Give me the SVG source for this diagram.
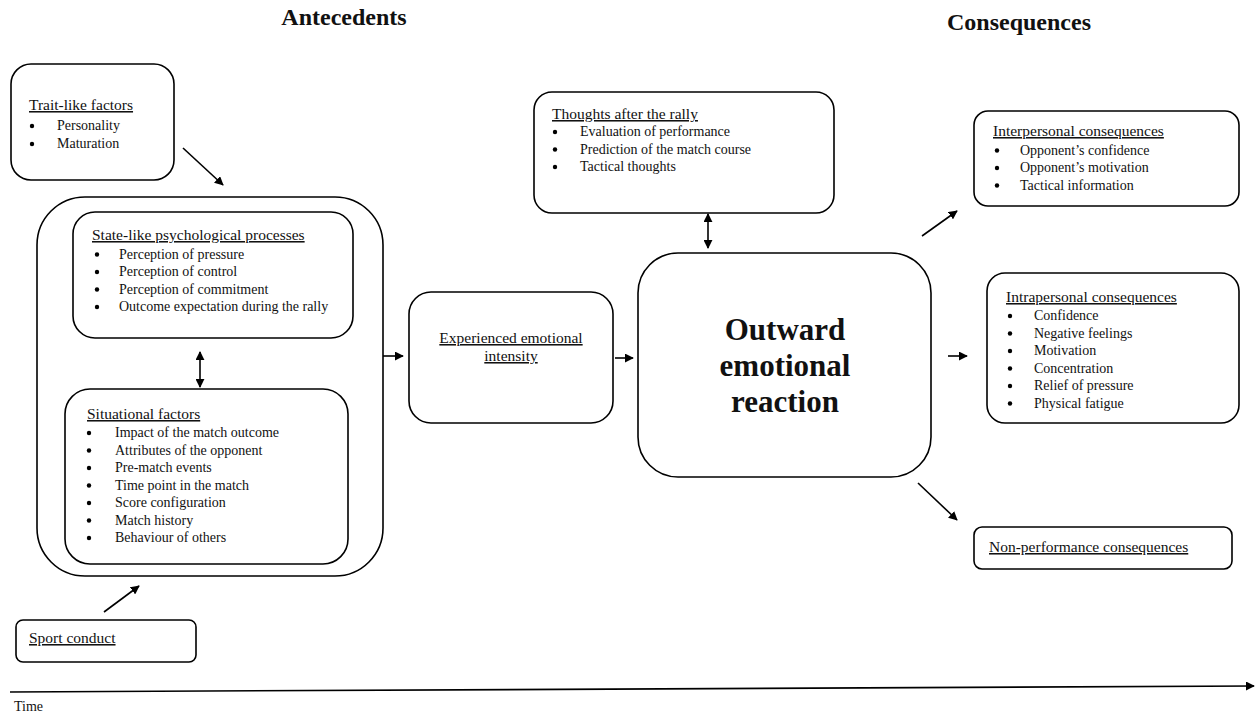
<svg xmlns="http://www.w3.org/2000/svg" width="1256" height="719" viewBox="0 0 1256 719">
<defs>
<marker id="ah" viewBox="0 0 10 10" refX="9" refY="5" markerWidth="9" markerHeight="9" markerUnits="userSpaceOnUse" orient="auto-start-reverse">
<path d="M0,0 L10,5 L0,10 z" fill="#000"/>
</marker>
<style>
.box{fill:#fff;stroke:#000;stroke-width:1.6}
.t{font-family:"Liberation Serif","Times New Roman",serif;fill:#111}
.ti{font-size:15.5px;text-decoration:underline}
.it{font-size:14px}
.hd{font-size:24px;font-weight:bold}
.big{font-size:31px;font-weight:bold}
.b{fill:#000}
.c{stroke:#000;stroke-width:1.6;fill:none;marker-end:url(#ah)}
.cc{stroke:#000;stroke-width:1.6;fill:none;marker-end:url(#ah);marker-start:url(#ah)}
</style>
</defs>
<rect width="1256" height="719" fill="#fff"/>

<g id="headers">
<text class="t hd" x="344" y="25" text-anchor="middle">Antecedents</text>
<text class="t hd" x="1019" y="30" text-anchor="middle">Consequences</text>
</g>

<g id="trait">
<rect class="box" x="11" y="64" width="163" height="116" rx="20"/>
<text class="t ti" x="29" y="110">Trait-like factors</text>
<circle class="b" cx="32" cy="126" r="2.2"/><text class="t it" x="57" y="130">Personality</text>
<circle class="b" cx="32" cy="144" r="2.2"/><text class="t it" x="57" y="148">Maturation</text>
</g>

<g id="antecedents-group">
<rect class="box" x="37" y="197" width="346" height="379" rx="48"/>
</g>

<g id="state">
<rect class="box" x="73" y="212" width="280" height="126" rx="22"/>
<text class="t ti" x="92" y="240">State-like psychological processes</text>
<circle class="b" cx="97" cy="254.5" r="2.2"/><text class="t it" x="119" y="258.5">Perception of pressure</text>
<circle class="b" cx="97" cy="272" r="2.2"/><text class="t it" x="119" y="276">Perception of control</text>
<circle class="b" cx="97" cy="289.5" r="2.2"/><text class="t it" x="119" y="293.5">Perception of commitment</text>
<circle class="b" cx="97" cy="307" r="2.2"/><text class="t it" x="119" y="311">Outcome expectation during the rally</text>
</g>

<g id="situational">
<rect class="box" x="65" y="389" width="283" height="175" rx="25"/>
<text class="t ti" x="87" y="419">Situational factors</text>
<circle class="b" cx="89" cy="433" r="2.2"/><text class="t it" x="115" y="437">Impact of the match outcome</text>
<circle class="b" cx="89" cy="450.5" r="2.2"/><text class="t it" x="115" y="454.5">Attributes of the opponent</text>
<circle class="b" cx="89" cy="468" r="2.2"/><text class="t it" x="115" y="472">Pre-match events</text>
<circle class="b" cx="89" cy="485.5" r="2.2"/><text class="t it" x="115" y="489.5">Time point in the match</text>
<circle class="b" cx="89" cy="503" r="2.2"/><text class="t it" x="115" y="507">Score configuration</text>
<circle class="b" cx="89" cy="520.5" r="2.2"/><text class="t it" x="115" y="524.5">Match history</text>
<circle class="b" cx="89" cy="538" r="2.2"/><text class="t it" x="115" y="542">Behaviour of others</text>
</g>

<g id="sport">
<rect class="box" x="16" y="620" width="180" height="42" rx="7"/>
<text class="t ti" x="29" y="643">Sport conduct</text>
</g>

<g id="experienced">
<rect class="box" x="409" y="292" width="204" height="131" rx="22"/>
<text class="t ti" x="511" y="343" text-anchor="middle">Experienced emotional</text>
<text class="t ti" x="511" y="361" text-anchor="middle">intensity</text>
</g>

<g id="thoughts">
<rect class="box" x="534" y="92" width="300" height="121" rx="18"/>
<text class="t ti" x="552" y="119">Thoughts after the rally</text>
<circle class="b" cx="555" cy="132" r="2.2"/><text class="t it" x="580" y="136">Evaluation of performance</text>
<circle class="b" cx="555" cy="149.5" r="2.2"/><text class="t it" x="580" y="153.5">Prediction of the match course</text>
<circle class="b" cx="555" cy="167" r="2.2"/><text class="t it" x="580" y="171">Tactical thoughts</text>
</g>

<g id="outward">
<rect class="box" x="638" y="253" width="293" height="224" rx="40"/>
<text class="t big" x="785" y="340" text-anchor="middle">Outward</text>
<text class="t big" x="785" y="376" text-anchor="middle">emotional</text>
<text class="t big" x="785" y="412" text-anchor="middle">reaction</text>
</g>

<g id="interpersonal">
<rect class="box" x="974" y="111" width="265" height="95" rx="14"/>
<text class="t ti" x="993" y="136">Interpersonal consequences</text>
<circle class="b" cx="997" cy="150.5" r="2.2"/><text class="t it" x="1020" y="154.5">Opponent’s confidence</text>
<circle class="b" cx="997" cy="168" r="2.2"/><text class="t it" x="1020" y="172">Opponent’s motivation</text>
<circle class="b" cx="997" cy="185.5" r="2.2"/><text class="t it" x="1020" y="189.5">Tactical information</text>
</g>

<g id="intrapersonal">
<rect class="box" x="987" y="273" width="252" height="150" rx="18"/>
<text class="t ti" x="1006" y="302">Intrapersonal consequences</text>
<circle class="b" cx="1010" cy="316" r="2.2"/><text class="t it" x="1034" y="320">Confidence</text>
<circle class="b" cx="1010" cy="333.5" r="2.2"/><text class="t it" x="1034" y="337.5">Negative feelings</text>
<circle class="b" cx="1010" cy="351" r="2.2"/><text class="t it" x="1034" y="355">Motivation</text>
<circle class="b" cx="1010" cy="368.5" r="2.2"/><text class="t it" x="1034" y="372.5">Concentration</text>
<circle class="b" cx="1010" cy="386" r="2.2"/><text class="t it" x="1034" y="390">Relief of pressure</text>
<circle class="b" cx="1010" cy="403.5" r="2.2"/><text class="t it" x="1034" y="407.5">Physical fatigue</text>
</g>

<g id="nonperformance">
<rect class="box" x="974" y="527" width="258" height="42" rx="8"/>
<text class="t ti" x="989" y="552">Non-performance consequences</text>
</g>

<g id="connectors">
<line class="c" x1="183" y1="148" x2="223" y2="185"/>
<line class="cc" x1="200" y1="352" x2="200" y2="387"/>
<line class="c" x1="104" y1="612" x2="139" y2="586"/>
<line class="c" x1="383" y1="356" x2="403" y2="356"/>
<line class="c" x1="615" y1="358" x2="633" y2="358"/>
<line class="cc" x1="708" y1="214" x2="708" y2="248"/>
<line class="c" x1="922" y1="236" x2="957" y2="211"/>
<line class="c" x1="948" y1="356" x2="967" y2="356"/>
<line class="c" x1="918" y1="483" x2="957" y2="520"/>
<line class="c" x1="10" y1="692" x2="1254" y2="686"/>
</g>

<g id="time">
<text class="t it" x="14" y="711">Time</text>
</g>
</svg>
